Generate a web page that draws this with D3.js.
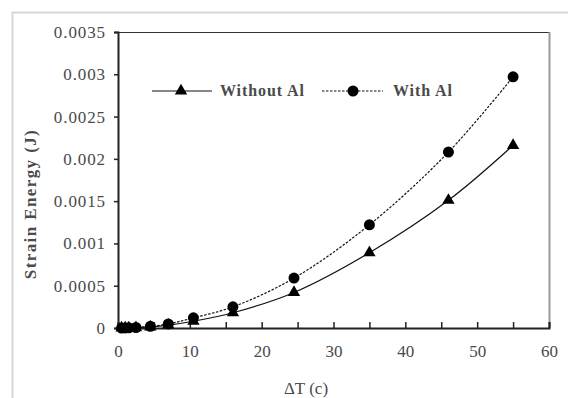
<!DOCTYPE html>
<html>
<head>
<meta charset="utf-8">
<script src="https://cdn.jsdelivr.net/npm/d3@7/dist/d3.min.js"></script>
<style>
  html, body { margin: 0; padding: 0; background: #fff; }
  svg { display: block; }
  text { font-family: "Liberation Serif", "Times New Roman", serif; fill: #4a4a4a; }
</style>
</head>
<body>
<svg id="chart" width="568" height="398"></svg>
<script>
// Temperature difference (ΔT) at which strain energy was evaluated
const deltaT = [0.5, 1, 1.5, 2.5, 4.5, 7, 10.5, 16, 24.5, 35, 46, 55];
// Strain energy (J) of each configuration
const withoutAl = [0, 0.000001, 0.000002, 0.000004, 0.000014, 0.000035, 0.00008, 0.00018, 0.00042, 0.00089, 0.00151, 0.00216];
const withAl    = [0, 0.000001, 0.000002, 0.000006, 0.00002, 0.000048, 0.00012, 0.00025, 0.00059, 0.00122, 0.00208, 0.00297];
const seriesNames = ["Without Al", "With Al"];
const xTickLabels = [0, 10, 20, 30, 40, 50, 60];
const yTickLabels = [0, 0.0005, 0.001, 0.0015, 0.002, 0.0025, 0.003, 0.0035];

const svg = d3.select("#chart");
const plot = { left: 118, top: 32, right: 549, bottom: 328 };

// Outer chart frame
svg.append("rect")
  .attr("x", 12.5).attr("y", 12.5).attr("width", 700).attr("height", 500)
  .attr("fill", "none").attr("stroke", "#d6d6d6").attr("stroke-width", 2);

const x = d3.scaleLinear().domain([0, 60]).range([plot.left, plot.right]);
const y = d3.scaleLinear().domain([0, 0.0035]).range([plot.bottom, plot.top]);

// Plot area border: top dark, right grey
svg.append("line").attr("x1", plot.left).attr("x2", plot.right)
  .attr("y1", plot.top + 0.5).attr("y2", plot.top + 0.5)
  .attr("stroke", "#333").attr("stroke-width", 1.2);
svg.append("line").attr("x1", plot.right + 0.5).attr("x2", plot.right + 0.5)
  .attr("y1", plot.top).attr("y2", plot.bottom)
  .attr("stroke", "#9a9a9a").attr("stroke-width", 2);

// Y axis
const yAxis = svg.append("g")
  .attr("transform", `translate(${plot.left},0)`)
  .call(d3.axisLeft(y).tickValues(yTickLabels).tickSize(4).tickPadding(8)
    .tickFormat(d => d === 0 ? "0" : String(+d.toFixed(4))));
yAxis.select(".domain").attr("stroke", "#222").attr("stroke-width", 2);
yAxis.selectAll(".tick line").attr("stroke", "#222").attr("stroke-width", 1.5);
yAxis.selectAll("text").attr("font-size", 17).attr("letter-spacing", 0.9)
  .style("font-family", "Liberation Serif").attr("fill", "#4a4a4a");

// X axis: ticks every 5 pointing inward, labels every 10
const xAxis = svg.append("g")
  .attr("transform", `translate(0,${plot.bottom})`)
  .call(d3.axisBottom(x).tickValues(d3.range(0, 61, 5)).tickSize(-6).tickPadding(17)
    .tickFormat(d => xTickLabels.includes(d) ? String(d) : ""));
xAxis.select(".domain").attr("stroke", "#222").attr("stroke-width", 2);
xAxis.selectAll(".tick line").attr("stroke", "#222").attr("stroke-width", 1.5);
xAxis.selectAll("text").attr("font-size", 17)
  .style("font-family", "Liberation Serif").attr("fill", "#4a4a4a");

// Axis titles
svg.append("text")
  .attr("x", 306).attr("y", 394)
  .attr("text-anchor", "middle").attr("font-size", 17)
  .text("ΔT (c)");
svg.append("text")
  .attr("transform", "translate(36,204) rotate(-90)")
  .attr("text-anchor", "middle").attr("font-size", 17).attr("font-weight", "bold")
  .attr("letter-spacing", 1.4)
  .text("Strain Energy (J)");

// Series
const rowsA = deltaT.map((t, i) => ({ t, v: withoutAl[i] }));
const rowsB = deltaT.map((t, i) => ({ t, v: withAl[i] }));
const line = d3.line().x(d => x(d.t)).y(d => y(d.v)).curve(d3.curveCatmullRom.alpha(0.5));

svg.append("path").datum(rowsA).attr("d", line)
  .attr("fill", "none").attr("stroke", "#111").attr("stroke-width", 1.2);
svg.append("path").datum(rowsB).attr("d", line)
  .attr("fill", "none").attr("stroke", "#111").attr("stroke-width", 1.2)
  .attr("stroke-dasharray", "2.5,1.5");

const tri = d3.symbol().type(d3.symbolTriangle).size(66);
svg.append("g").selectAll("path").data(rowsA).join("path")
  .attr("d", tri)
  .attr("transform", d => `translate(${x(d.t)},${y(d.v)})`)
  .attr("fill", "#000");
svg.append("g").selectAll("circle").data(rowsB).join("circle")
  .attr("cx", d => x(d.t)).attr("cy", d => y(d.v)).attr("r", 5.5)
  .attr("fill", "#000");

// Legend
const legY = 91;
const leg = svg.append("g");
leg.append("line").attr("x1", 152).attr("x2", 212).attr("y1", legY).attr("y2", legY)
  .attr("stroke", "#111").attr("stroke-width", 1.2);
leg.append("path").attr("d", tri).attr("transform", `translate(181,${legY})`).attr("fill", "#000");
leg.append("text").attr("x", 220).attr("y", legY + 5).attr("font-size", 16)
  .attr("font-weight", "bold").attr("letter-spacing", 0.9).text(seriesNames[0]);
leg.append("line").attr("x1", 322).attr("x2", 383).attr("y1", legY).attr("y2", legY)
  .attr("stroke", "#111").attr("stroke-width", 1.2).attr("stroke-dasharray", "2.5,1.5");
leg.append("circle").attr("cx", 353).attr("cy", legY).attr("r", 5.5).attr("fill", "#000");
leg.append("text").attr("x", 393).attr("y", legY + 5).attr("font-size", 16)
  .attr("font-weight", "bold").attr("letter-spacing", 0.9).text(seriesNames[1]);
</script>
</body>
</html>
